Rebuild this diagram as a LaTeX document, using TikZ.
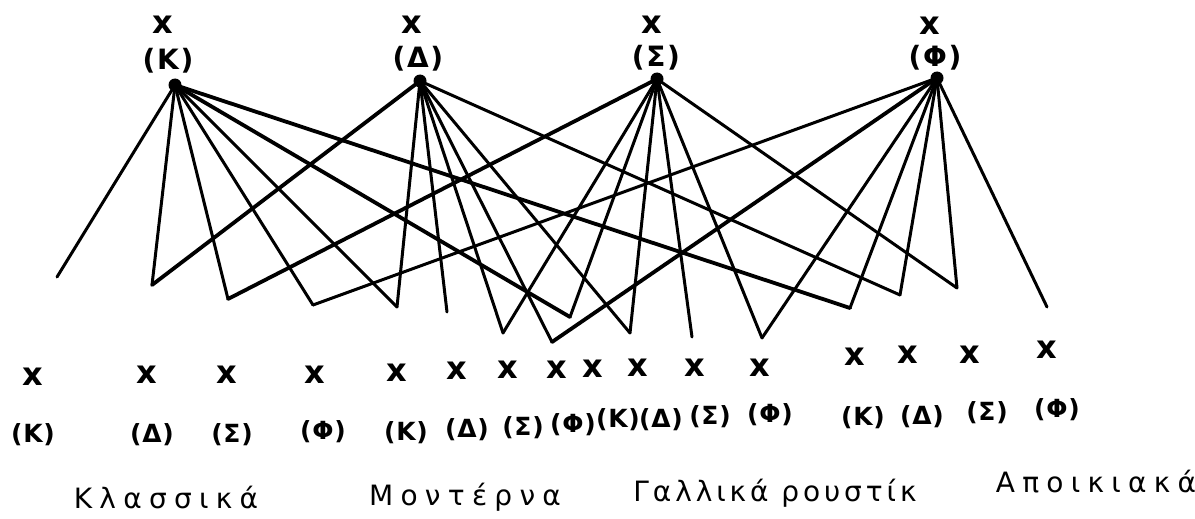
\documentclass[tikz,border=0pt]{standalone}
\usepackage{fontspec}
\setmainfont{DejaVu Sans}
\begin{document}
\begin{tikzpicture}[x=1pt,y=-1pt,
  link/.style={line width=3pt, line cap=round, line join=round},
  heavy/.style={link, line width=3.8pt},
  hub/.style={circle, fill=black, inner sep=0pt, minimum size=13pt},
  xmark/.style={font=\fontsize{32}{32}\selectfont\bfseries, inner sep=0pt},
  tag/.style={font=\fontsize{25}{25}\selectfont\bfseries\addfontfeature{LetterSpace=3}, inner sep=0pt},
  toptag/.style={font=\fontsize{28}{28}\selectfont\bfseries\addfontfeature{LetterSpace=6}, inner sep=0pt},
  word/.style={font=\fontsize{28}{28}\selectfont\addfontfeature{LetterSpace=26}, inner sep=0pt, anchor=base}
]
\useasboundingbox (0,0) rectangle (1195,519);

% upper level: the four hubs with their marks
\node[hub] (K) at (175,85) {};
\node[hub] (D) at (420,81) {};
\node[hub] (S) at (657,79) {};
\node[hub] (F) at (937,78) {};
\node[xmark] (Kx) at (163,25) {x};
\node[xmark] (Dx) at (412,25) {x};
\node[xmark] (Sx) at (652,25) {x};
\node[xmark] (Fx) at (930,26) {x};
\node[toptag] (Kt) at (168,61) {(Κ)};
\node[toptag] (Dt) at (418,59) {(Δ)};
\node[toptag] (St) at (656,58) {(Σ)};
\node[toptag] (Ft) at (935,58) {(Φ)};

% free ends of the connectors
\coordinate (kl1) at (57,277);
\coordinate (kl2) at (152,285);
\coordinate (kl3) at (228,299);
\coordinate (kl4) at (313,305);
\coordinate (mo1) at (397,307);
\coordinate (mo2) at (447,312);
\coordinate (mo3) at (503,333);
\coordinate (mo4) at (552,342);
\coordinate (ga1) at (570,317);
\coordinate (ga2) at (630,333);
\coordinate (ga3) at (692,337);
\coordinate (ga4) at (762,338);
\coordinate (ap1) at (850,308);
\coordinate (ap2) at (900,295);
\coordinate (ap3) at (957,288);
\coordinate (ap4) at (1047,307);

% connectors
\draw[link] (K.center) -- (kl1);
\draw[link] (K.center) -- (kl2);
\draw[link] (K.center) -- (kl3);
\draw[link] (K.center) -- (kl4);
\draw[link] (K.center) -- (mo1);
\draw[heavy] (K.center) -- (ga1);
\draw[heavy] (K.center) -- (ap1);

\draw[heavy] (D.center) -- (kl2);
\draw[link] (D.center) -- (mo1);
\draw[link] (D.center) -- (mo2);
\draw[link] (D.center) -- (mo3);
\draw[link] (D.center) -- (mo4);
\draw[link] (D.center) -- (ga2);
\draw[link] (D.center) -- (ap2);

\draw[heavy] (S.center) -- (kl3);
\draw[link] (S.center) -- (mo3);
\draw[link] (S.center) -- (ga1);
\draw[link] (S.center) -- (ga2);
\draw[link] (S.center) -- (ga3);
\draw[link] (S.center) -- (ga4);
\draw[link] (S.center) -- (ap3);

\draw[link] (F.center) -- (kl4);
\draw[heavy] (F.center) -- (mo4);
\draw[link] (F.center) -- (ga4);
\draw[link] (F.center) -- (ap1);
\draw[link] (F.center) -- (ap2);
\draw[link] (F.center) -- (ap3);
\draw[link] (F.center) -- (ap4);

% lower level: sixteen marks with their letters
\node[xmark] (x1) at (33,377) {x};
\node[xmark] (x2) at (147,375) {x};
\node[xmark] (x3) at (227,375) {x};
\node[xmark] (x4) at (315,375) {x};
\node[xmark] (x5) at (397,373) {x};
\node[xmark] (x6) at (457,371) {x};
\node[xmark] (x7) at (508,370) {x};
\node[xmark] (x8) at (557,370) {x};
\node[xmark] (x9) at (593,369) {x};
\node[xmark] (x10) at (638,368) {x};
\node[xmark] (x11) at (695,368) {x};
\node[xmark] (x12) at (760,368) {x};
\node[xmark] (x13) at (855,357) {x};
\node[xmark] (x14) at (908,355) {x};
\node[xmark] (x15) at (970,355) {x};
\node[xmark] (x16) at (1047,350) {x};

\node[tag] (t1) at (33,435) {(Κ)};
\node[tag] (t2) at (152,435) {(Δ)};
\node[tag] (t3) at (232,435) {(Σ)};
\node[tag] (t4) at (323,432) {(Φ)};
\node[tag] (t5) at (406,433) {(Κ)};
\node[tag] (t6) at (467,430) {(Δ)};
\node[tag] (t7) at (523,428) {(Σ)};
\node[tag] (t8) at (573,425) {(Φ)};
\node[tag] (t9) at (618,420) {(Κ)};
\node[tag] (t10) at (661,420) {(Δ)};
\node[tag] (t11) at (710,417) {(Σ)};
\node[tag] (t12) at (770,415) {(Φ)};
\node[tag] (t13) at (863,418) {(Κ)};
\node[tag] (t14) at (922,417) {(Δ)};
\node[tag] (t15) at (987,413) {(Σ)};
\node[tag] (t16) at (1057,410) {(Φ)};

% group names
\node[word] (g1) at (166,508) {Κλασσικά};
\node[word] (g2) at (465,505) {Μοντέρνα};
\node[word, font=\fontsize{28}{28}\selectfont\addfontfeature{LetterSpace=14}] (g3) at (775,501) {Γαλλικά ρουστίκ};
\node[word] (g4) at (1096,492) {Αποικιακά};
\end{tikzpicture}
\end{document}
